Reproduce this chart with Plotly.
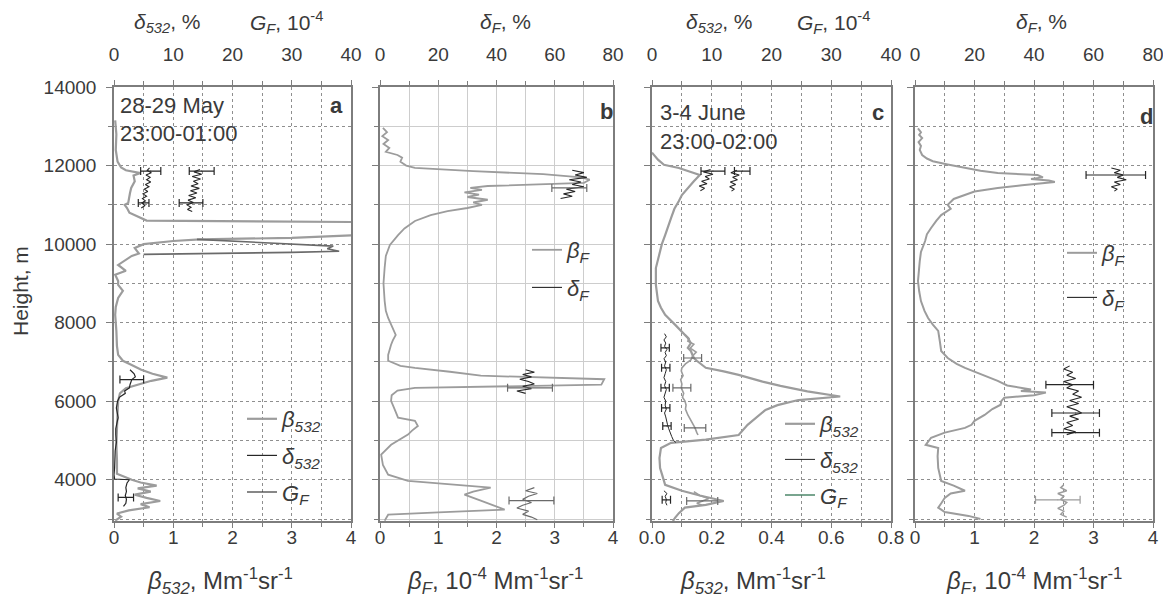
import plotly.graph_objects as go

# ---------------- data (height m, value) ----------------
# Panel a : 28-29 May
A_BETA = [(13150,0.02),(12800,0.04),(12400,0.03),(12100,0.06),(11950,0.12),(11880,0.2),(11810,0.45),(11750,0.33),
          (11600,0.35),(11430,0.29),(11300,0.27),(11175,0.26),(11050,0.24),(11000,0.18),(10920,0.22),(10800,0.26),
          (10680,0.42),(10600,0.55),(10560,4.4),(10250,4.4),(10160,3.0),(10120,1.45),(10080,1.0),(10000,0.5),
          (9900,0.35),(9760,0.42),(9700,0.3),(9600,0.2),(9470,0.07),(9320,0.2),(9220,0.02),(9060,0.07),(8960,0.07),
          (8810,0.15),(8630,0.07),(8400,0.03),(8200,0.02),(7790,0.04),(7400,0.05),(7180,0.07),(7030,0.15),(6930,0.29),
          (6800,0.46),(6700,0.65),(6600,0.9),(6520,0.63),(6420,0.4),(6330,0.2),(6200,0.1),(6000,0.07),(5700,0.06),
          (5300,0.05),(4900,0.04),(4500,0.05),(4150,0.05),(4000,0.3),(3930,0.45),(3850,0.72),(3780,0.4),(3700,0.62),
          (3620,0.35),(3540,0.55),(3460,0.78),(3380,0.45),(3300,0.6),(3220,0.25),(3140,0.05),(3060,0.12),(2960,0.02)]
A_D532_LOW = [(6800,2.7),(6700,3.4),(6620,3.6),(6550,3.0),(6420,2.7),(6340,2.6),(6260,1.8),(6200,1.9),(6100,0.9),
              (6000,0.6),(5830,0.4),(5700,0.6),(5580,0.7),(5450,0.5),(5300,0.3),(5150,0.3),(4950,0.4),(4740,0.2),
              (4500,0.2),(4300,0.1),(4130,0.0),(4020,0.1),(4000,2.6),(3920,2.2),(3800,2.0),(3700,2.1),(3600,1.9),
              (3500,2.1),(3400,2.0),(3320,1.6)]
A_D532_SPIKE = [(10120,14),(10060,22),(9990,30),(9950,37),(9880,36),(9820,38),(9790,30),(9770,14),(9740,5)]
A_GF_UP = [(11940,6.0),(11880,5.6),(11820,6.3),(11760,5.4),(11700,6.1),(11640,5.5),(11580,6.2),(11520,5.3),
           (11460,5.9),(11400,5.1),(11340,5.7),(11280,4.9),(11220,5.5),(11160,4.8),(11100,5.3),(11050,4.7),
           (10980,5.2),(10920,4.6)]
A_D532_UP = [(11900,14.5),(11840,13.5),(11780,14.8),(11720,13.2),(11660,14.6),(11600,13.4),(11540,14.2),
             (11480,13.0),(11420,14.4),(11360,12.9),(11300,14.0),(11240,12.6),(11180,13.8),(11120,12.5),
             (11060,13.4),(11000,12.3),(10940,13.0),(10880,12.4),(10830,13.2)]
A_ERR_D532 = [(6550,3.0,2.0),(3550,2.0,1.3)]          # (height, value, +/-)
A_ERR_GF = [(11860,6.2,1.7),(11050,5.0,0.9)]
A_ERR_UP = [(11860,14.8,2.1),(11050,13.0,2.0)]

# Panel b : fluorescence, 28-29 May
B_BETA = [(12960,0.05),(12850,0.12),(12750,0.04),(12650,0.14),(12550,0.06),(12450,0.16),(12350,0.1),(12270,0.3),
          (12200,0.38),(12100,0.35),(12000,0.45),(11940,0.6),(11860,1.6),(11780,2.8),(11700,3.45),(11640,3.6),
          (11560,3.5),(11480,1.85),(11430,1.55),(11380,1.75),(11320,1.45),(11260,1.7),(11200,1.5),(11130,1.85),
          (11060,1.6),(11000,1.75),(10920,1.5),(10840,1.16),(10740,0.87),(10590,0.6),(10400,0.42),(10230,0.31),
          (9980,0.17),(9700,0.1),(9400,0.08),(9000,0.06),(8550,0.08),(8300,0.1),(8120,0.14),(7900,0.2),(7690,0.27),
          (7550,0.22),(7440,0.19),(7180,0.14),(7030,0.14),(6900,0.35),(6850,0.6),(6750,1.2),(6650,1.73),(6560,3.85),
          (6420,3.8),(6340,0.6),(6270,0.3),(6150,0.2),(6010,0.19),(5800,0.25),(5580,0.31),(5500,0.6),(5370,0.65),
          (5250,0.55),(5150,0.48),(4890,0.19),(4640,0.02),(4380,0.05),(4130,0.14),(3970,0.48),(3800,1.9),(3700,1.6),
          (3620,1.45),(3470,1.73),(3350,1.95),(3240,2.14),(3170,1.0),(3110,0.14),(2960,0.08)]
B_DF_TOP = [(11880,66),(11820,70),(11760,67),(11700,71),(11640,65),(11580,69),(11520,66),(11460,70),(11400,64),
            (11340,67),(11280,63),(11220,66),(11160,62)]
B_DF_MID = [(6800,50),(6740,53),(6680,49),(6620,52),(6560,48),(6500,51),(6440,53),(6380,49),(6320,52),(6260,47),(6200,50)]
B_DF_BOT = [(3800,53),(3720,50),(3650,54),(3580,51),(3500,49),(3420,52),(3350,49),(3280,47),(3200,51),(3120,49),
            (3050,52),(2980,54)]
B_ERR = [(11430,65,6),(6340,51.5,7.7),(3470,52,7.7)]

# Panel c : 3-4 June
C_BETA = [(12330,0.0),(12150,0.02),(12020,0.04),(11940,0.09),(11860,0.12),(11760,0.16),(11600,0.14),(11430,0.12),
          (11250,0.1),(11100,0.09),(10900,0.075),(10670,0.064),(10450,0.055),(10230,0.044),(10000,0.033),
          (9830,0.027),(9600,0.018),(9390,0.013),(8960,0.013),(8550,0.02),(8380,0.03),(8200,0.044),(7950,0.077),
          (7780,0.1),(7610,0.12),(7480,0.13),(7360,0.12),(7280,0.13),(7100,0.14),(7030,0.15),(6850,0.18),
          (6760,0.24),(6670,0.29),(6500,0.37),(6390,0.43),(6250,0.52),(6120,0.63),(6030,0.49),(5900,0.42),
          (5780,0.38),(5600,0.35),(5400,0.32),(5140,0.29),(5020,0.18),(4940,0.064),(4810,0.03),(4550,0.025),
          (4300,0.027),(4100,0.035),(3870,0.044),(3720,0.1),(3600,0.16),(3460,0.24),(3400,0.2),(3360,0.18),
          (3290,0.11),(3150,0.09),(3030,0.077),(2950,0.07)]
C_GF = [(7700,5.5),(7600,6.2),(7530,6.0),(7450,7.0),(7350,6.4),(7250,7.4),(7150,6.8),(7050,6.5),(6950,5.6),
        (6850,5.0),(6770,4.9),(6650,5.2),(6550,4.8),(6440,5.0),(6340,4.9),(6200,5.3),(6100,5.1),(6010,5.5),
        (5900,5.7),(5800,5.6),(5650,6.0),(5500,6.6),(5400,6.9),(5320,7.2),(5200,7.5),(5140,7.7)]
C_GF_LOW = [(3700,7.0),(3600,8.0),(3520,9.5),(3460,8.6),(3400,7.5),(3350,8.4)]
C_D532 = [(7720,2.1),(7640,2.4),(7560,2.0),(7480,2.3),(7400,2.1),(7320,2.5),(7240,2.2),(7160,2.4),(7080,2.0),
          (7000,2.3),(6900,2.1),(6800,2.4),(6700,2.2),(6600,2.0),(6500,2.3),(6400,2.1),(6300,2.4),(6200,2.2),
          (6100,2.0),(6000,2.3),(5900,2.2),(5800,2.4),(5700,2.1),(5600,2.3),(5500,2.4),(5400,2.6),(5300,2.8),
          (5200,3.0),(5100,3.3),(5000,3.6),(4950,4.0)]
C_D532_LOW = [(3720,2.0),(3650,2.5),(3580,2.2),(3500,2.4),(3420,2.3),(3350,2.5)]
C_CI1 = [(11900,9.8),(11840,8.6),(11780,10.2),(11720,8.9),(11660,9.6),(11600,8.3),(11540,9.2),(11480,7.9),
         (11420,8.8),(11360,8.1)]
C_CI2 = [(11880,14.2),(11820,13.2),(11760,14.6),(11700,13.5),(11640,14.3),(11580,13.1),(11520,14.0),(11460,13.0),
         (11400,13.8),(11350,13.3)]
C_ERR_D532 = [(7360,2.2,0.7),(6850,2.3,0.7),(6340,2.2,0.7),(5830,2.3,0.7),(5370,2.5,0.7),(3490,2.4,0.7)]
C_ERR_GF = [(7100,6.8,1.5),(6340,5.0,1.5),(5320,7.2,1.8),(3460,8.4,2.6)]
C_ERR_CI = [(11860,10.2,2.0),(11860,15.1,1.3)]

# Panel d : fluorescence, 3-4 June
D_BETA = [(12950,0.05),(12850,0.1),(12780,0.07),(12700,0.12),(12600,0.06),(12500,0.1),(12400,0.08),(12270,0.12),
          (12180,0.2),(12110,0.3),(12030,0.55),(11940,0.84),(11870,1.1),(11810,1.39),(11780,1.8),(11760,2.06),
          (11700,2.15),(11660,1.95),(11620,2.25),(11580,2.35),(11500,1.8),(11430,1.39),(11340,1.0),(11250,0.84),
          (11150,0.65),(11000,0.55),(10900,0.6),(10740,0.44),(10600,0.36),(10410,0.27),(10250,0.2),(10080,0.17),
          (9800,0.1),(9570,0.08),(9300,0.06),(9060,0.05),(8800,0.07),(8550,0.1),(8300,0.16),(8120,0.22),(7950,0.3),
          (7790,0.39),(7500,0.42),(7280,0.44),(7100,0.55),(6950,0.7),(6850,0.84),(6700,1.1),(6520,1.39),(6400,1.55),
          (6300,1.95),(6260,1.78),(6220,2.2),(6150,2.0),(6090,1.5),(6000,1.45),(5910,1.44),(5800,1.3),(5650,1.17),
          (5500,1.0),(5400,0.95),(5320,0.84),(5200,0.5),(5070,0.27),(4950,0.2),(4890,0.18),(4810,0.39),(4600,0.38),
          (4300,0.39),(4100,0.42),(3970,0.44),(3850,0.65),(3720,0.84),(3650,0.6),(3540,0.5),(3420,0.45),(3290,0.39),
          (3180,0.5),(3080,0.9),(3000,1.1)]
D_DF_TOP = [(11940,66),(11880,69),(11820,67),(11760,70),(11700,68),(11640,71),(11580,67),(11520,69),(11460,66),
            (11400,68),(11350,67)]
D_DF_MID = [(6900,52),(6820,50),(6740,53),(6660,51),(6580,54),(6500,50),(6420,53),(6340,51),(6260,55),(6180,53),
            (6100,56),(6020,52),(5940,55),(5860,51),(5780,54),(5700,56),(5620,52),(5540,55),(5460,51),(5380,53),
            (5300,50),(5220,54),(5150,51)]
D_DF_BOT = [(3870,50),(3800,49),(3720,51),(3650,48),(3580,50),(3500,49),(3420,51),(3350,50),(3270,48),(3200,50),
            (3120,49),(3050,51)]
D_ERR_TOP = [(11760,67.5,10)]
D_ERR_MID = [(6420,52,8),(5700,54,8),(5200,54,8)]
D_ERR_BOT = [(3490,48,7.5)]

H_TICKS = [4000, 6000, 8000, 10000, 12000, 14000]

# ---------------- style ----------------
FONT = "Liberation Sans, Arial, sans-serif"
TXT = "#3a3a3a"
FRAME = "#7d7d7d"
GRID = "#8f8f8f"
GRAY = "#9c9c9c"
DARK = "#262626"
MIDG = "#6a6a6a"

B532 = "<i>β</i><sub><i>532</i></sub>"
D532 = "<i>δ</i><sub><i>532</i></sub>"
GF = "<i>G</i><sub><i>F</i></sub>"
BF = "<i>β</i><sub><i>F</i></sub>"
DF = "<i>δ</i><sub><i>F</i></sub>"

fig = go.Figure()


def line(pairs, xa, ya, color, width, name=None, legend=None, group=None):
    fig.add_trace(go.Scatter(
        x=[p[1] for p in pairs], y=[p[0] for p in pairs], xaxis=xa, yaxis=ya, mode="lines",
        line=dict(color=color, width=width), name=name or "", showlegend=name is not None,
        legend=legend or "legend", legendgroup=group, hoverinfo="skip"))


def errs(rows, xa, ya, color):
    fig.add_trace(go.Scatter(
        x=[r[1] for r in rows], y=[r[0] for r in rows], xaxis=xa, yaxis=ya, mode="markers",
        marker=dict(size=1, color=color), showlegend=False, hoverinfo="skip",
        error_x=dict(type="data", array=[r[2] for r in rows], color=color, thickness=1.2, width=4)))


# panel a  (bottom: x, top: x5)
line(A_BETA, "x", "y", GRAY, 2.2, B532, "legend", "a1")
line(A_D532_SPIKE, "x5", "y", MIDG, 1.6)
line(A_D532_LOW, "x5", "y", DARK, 1.2, D532, "legend", "a2")
line(A_D532_UP, "x5", "y", DARK, 1.1)
line(A_GF_UP, "x5", "y", DARK, 1.1, GF, "legend", "a3")
errs(A_ERR_D532, "x5", "y", DARK)
errs(A_ERR_GF, "x5", "y", DARK)
errs(A_ERR_UP, "x5", "y", DARK)

# panel b  (bottom: x2, top: x6)
line(B_BETA, "x2", "y2", GRAY, 1.8, BF, "legend2", "b1")
line(B_DF_TOP, "x6", "y2", DARK, 1.1, DF, "legend2", "b2")
line(B_DF_MID, "x6", "y2", DARK, 1.1)
line(B_DF_BOT, "x6", "y2", MIDG, 1.2)
errs(B_ERR, "x6", "y2", MIDG)

# panel c  (bottom: x3, top: x7)
line(C_BETA, "x3", "y3", GRAY, 2.2, B532, "legend3", "c1")
line(C_GF, "x7", "y3", GRAY, 1.6)
line(C_GF_LOW, "x7", "y3", GRAY, 1.6)
line(C_D532, "x7", "y3", DARK, 1.0, D532, "legend3", "c2")
line(C_D532_LOW, "x7", "y3", DARK, 1.0)
line(C_CI1, "x7", "y3", DARK, 1.1)
line(C_CI2, "x7", "y3", DARK, 1.1)
errs(C_ERR_D532, "x7", "y3", DARK)
errs(C_ERR_GF, "x7", "y3", MIDG)
errs(C_ERR_CI, "x7", "y3", DARK)
fig.add_trace(go.Scatter(x=[None], y=[None], xaxis="x7", yaxis="y3", mode="lines",
                         line=dict(color="#3f7f5f", width=1.4), name=GF, legend="legend3",
                         legendgroup="c3", showlegend=True, hoverinfo="skip"))

# panel d  (bottom: x4, top: x8)
line(D_BETA, "x4", "y4", GRAY, 2.0, BF, "legend4", "d1")
line(D_DF_TOP, "x8", "y4", DARK, 1.1, DF, "legend4", "d2")
line(D_DF_MID, "x8", "y4", DARK, 1.1)
line(D_DF_BOT, "x8", "y4", GRAY, 1.5)
errs(D_ERR_TOP, "x8", "y4", DARK)
errs(D_ERR_MID, "x8", "y4", DARK)
errs(D_ERR_BOT, "x8", "y4", GRAY)

# ---------------- layout ----------------
PX_L, PX_R = 106, 1145
PT, PB = 79, 513


def dom(a, b):
    return [(a - PX_L) / (PX_R - PX_L), (b - PX_L) / (PX_R - PX_L)]


def px(v):
    return (v - PX_L) / (PX_R - PX_L)


def py(v):
    return (PB - v) / (PB - PT)


TICKF = dict(family=FONT, size=19, color=TXT)


def bottom(domain, anchor, rng, dtick, minor, fmt=None, gridcolor=GRID, dash="dot"):
    d = dict(domain=domain, anchor=anchor, range=rng, dtick=dtick, tick0=0, showline=True, linecolor=FRAME,
             linewidth=1.5, ticks="outside", ticklen=5, tickcolor=FRAME, tickfont=TICKF, showgrid=True,
             gridcolor=gridcolor, griddash=dash, gridwidth=1, zeroline=False, ticklabelstandoff=-7,
             minor=dict(dtick=minor, tick0=0, ticks="outside", ticklen=4, tickcolor=FRAME, showgrid=True,
                        gridcolor=gridcolor, griddash=dash, gridwidth=1))
    if fmt:
        d["tickformat"] = fmt
    return d


def top(over, anchor, rng, dtick, minor):
    return dict(overlaying=over, anchor=anchor, side="top", range=rng, dtick=dtick, tick0=0, showline=True,
                linecolor=FRAME, linewidth=1.5, ticks="outside", ticklen=5, tickcolor=FRAME, tickfont=TICKF,
                showgrid=False, zeroline=False, ticklabelstandoff=12,
                minor=dict(dtick=minor, tick0=0, ticks="outside", ticklen=4, tickcolor=FRAME))


def yax(anchor, labels, gridcolor=GRID, dash="dot"):
    d = dict(anchor=anchor, domain=[0, 1], range=[2950, 14001], tickvals=H_TICKS, tickformat="d",
             showline=True, mirror=True,
             linecolor=FRAME, linewidth=1.5, ticks="outside", ticklen=6, tickcolor=FRAME, tickfont=TICKF,
             showgrid=True, gridcolor=gridcolor, griddash=dash, zeroline=False, showticklabels=labels,
             ticklabelstandoff=6,
             minor=dict(dtick=1000, tick0=0, ticks="outside", ticklen=4, tickcolor=FRAME, showgrid=True,
                        gridcolor=gridcolor, griddash=dash))
    if anchor != "x":
        d["matches"] = "y"
    return d


def leg(x, y, gap):
    return dict(x=x, y=y, xanchor="left", yanchor="top", bgcolor="rgba(0,0,0,0)", borderwidth=0,
                font=dict(family=FONT, size=22, color=TXT), tracegroupgap=gap, itemwidth=30,
                orientation="v")


ANN = []


def note(x, y, text, size=21, xanchor="center", bold=False, angle=0):
    ANN.append(dict(x=x, y=y, xref="paper", yref="paper", text=f"<b>{text}</b>" if bold else text,
                    showarrow=False, xanchor=xanchor, yanchor="middle", textangle=angle,
                    font=dict(family=FONT, size=size, color=TXT)))


# in-panel labels
note(px(110), py(97), "28-29 May", 22, "left")
note(px(110), py(125), "23:00-01:00", 22, "left")
note(px(650), py(105), "3-4 June", 22, "left")
note(px(650), py(133), "23:00-02:00", 22, "left")
note(px(328), py(98), "a", 22, bold=True)
note(px(598), py(103), "b", 22, bold=True)
note(px(870), py(105), "c", 22, bold=True)
note(px(1138), py(108), "d", 22, bold=True)
# top axis titles
TOPY = 15
note(px(159), py(TOPY), D532 + ", %")
note(px(278), py(TOPY), GF + ", 10<sup>-4</sup>")
note(px(497), py(TOPY), DF + ", %")
note(px(711), py(TOPY), D532 + ", %")
note(px(825), py(TOPY), GF + ", 10<sup>-4</sup>")
note(px(1033), py(TOPY), DF + ", %")
# bottom axis titles
BOTY = 573
note(px(212), py(BOTY), B532 + ", Mm<sup>-1</sup>sr<sup>-1</sup>", 24)
note(px(487), py(BOTY), BF + ", 10<sup>-4</sup> Mm<sup>-1</sup>sr<sup>-1</sup>", 24)
note(px(745), py(BOTY), B532 + ", Mm<sup>-1</sup>sr<sup>-1</sup>", 24)
note(px(1026), py(BOTY), BF + ", 10<sup>-4</sup> Mm<sup>-1</sup>sr<sup>-1</sup>", 24)
note(px(12), py(283), "Height, m", 21, angle=-90)

fig.update_layout(
    width=1171, height=598, margin=dict(l=PX_L, r=1171 - PX_R, t=PT, b=598 - PB),
    paper_bgcolor="white", plot_bgcolor="white", font=dict(family=FONT, color=TXT),
    xaxis=bottom(dom(106, 343), "y", [0, 4], 1, 0.5),
    xaxis2=bottom(dom(372, 605), "y2", [0, 4], 1, 0.5, gridcolor="#cdcdcd", dash="solid"),
    xaxis3=bottom(dom(644, 883), "y3", [0, 0.8], 0.2, 0.1, fmt=".1f"),
    xaxis4=bottom(dom(907, 1145), "y4", [0, 4], 1, 0.5),
    xaxis5=top("x", "y", [0, 40], 10, 5),
    xaxis6=top("x2", "y2", [0, 80], 20, 10),
    xaxis7=top("x3", "y3", [0, 40], 10, 5),
    xaxis8=top("x4", "y4", [0, 80], 20, 10),
    yaxis=yax("x", True),
    yaxis2=yax("x2", False, gridcolor="#cdcdcd", dash="solid"),
    yaxis3=yax("x3", False),
    yaxis4=yax("x4", False),
    legend=leg(px(234), py(390), 5),
    legend2=leg(px(519), py(221), 6),
    legend3=leg(px(772), py(395), 4),
    legend4=leg(px(1054), py(224), 13),
    annotations=ANN,
    showlegend=True,
)

fig.write_html("out.html")
